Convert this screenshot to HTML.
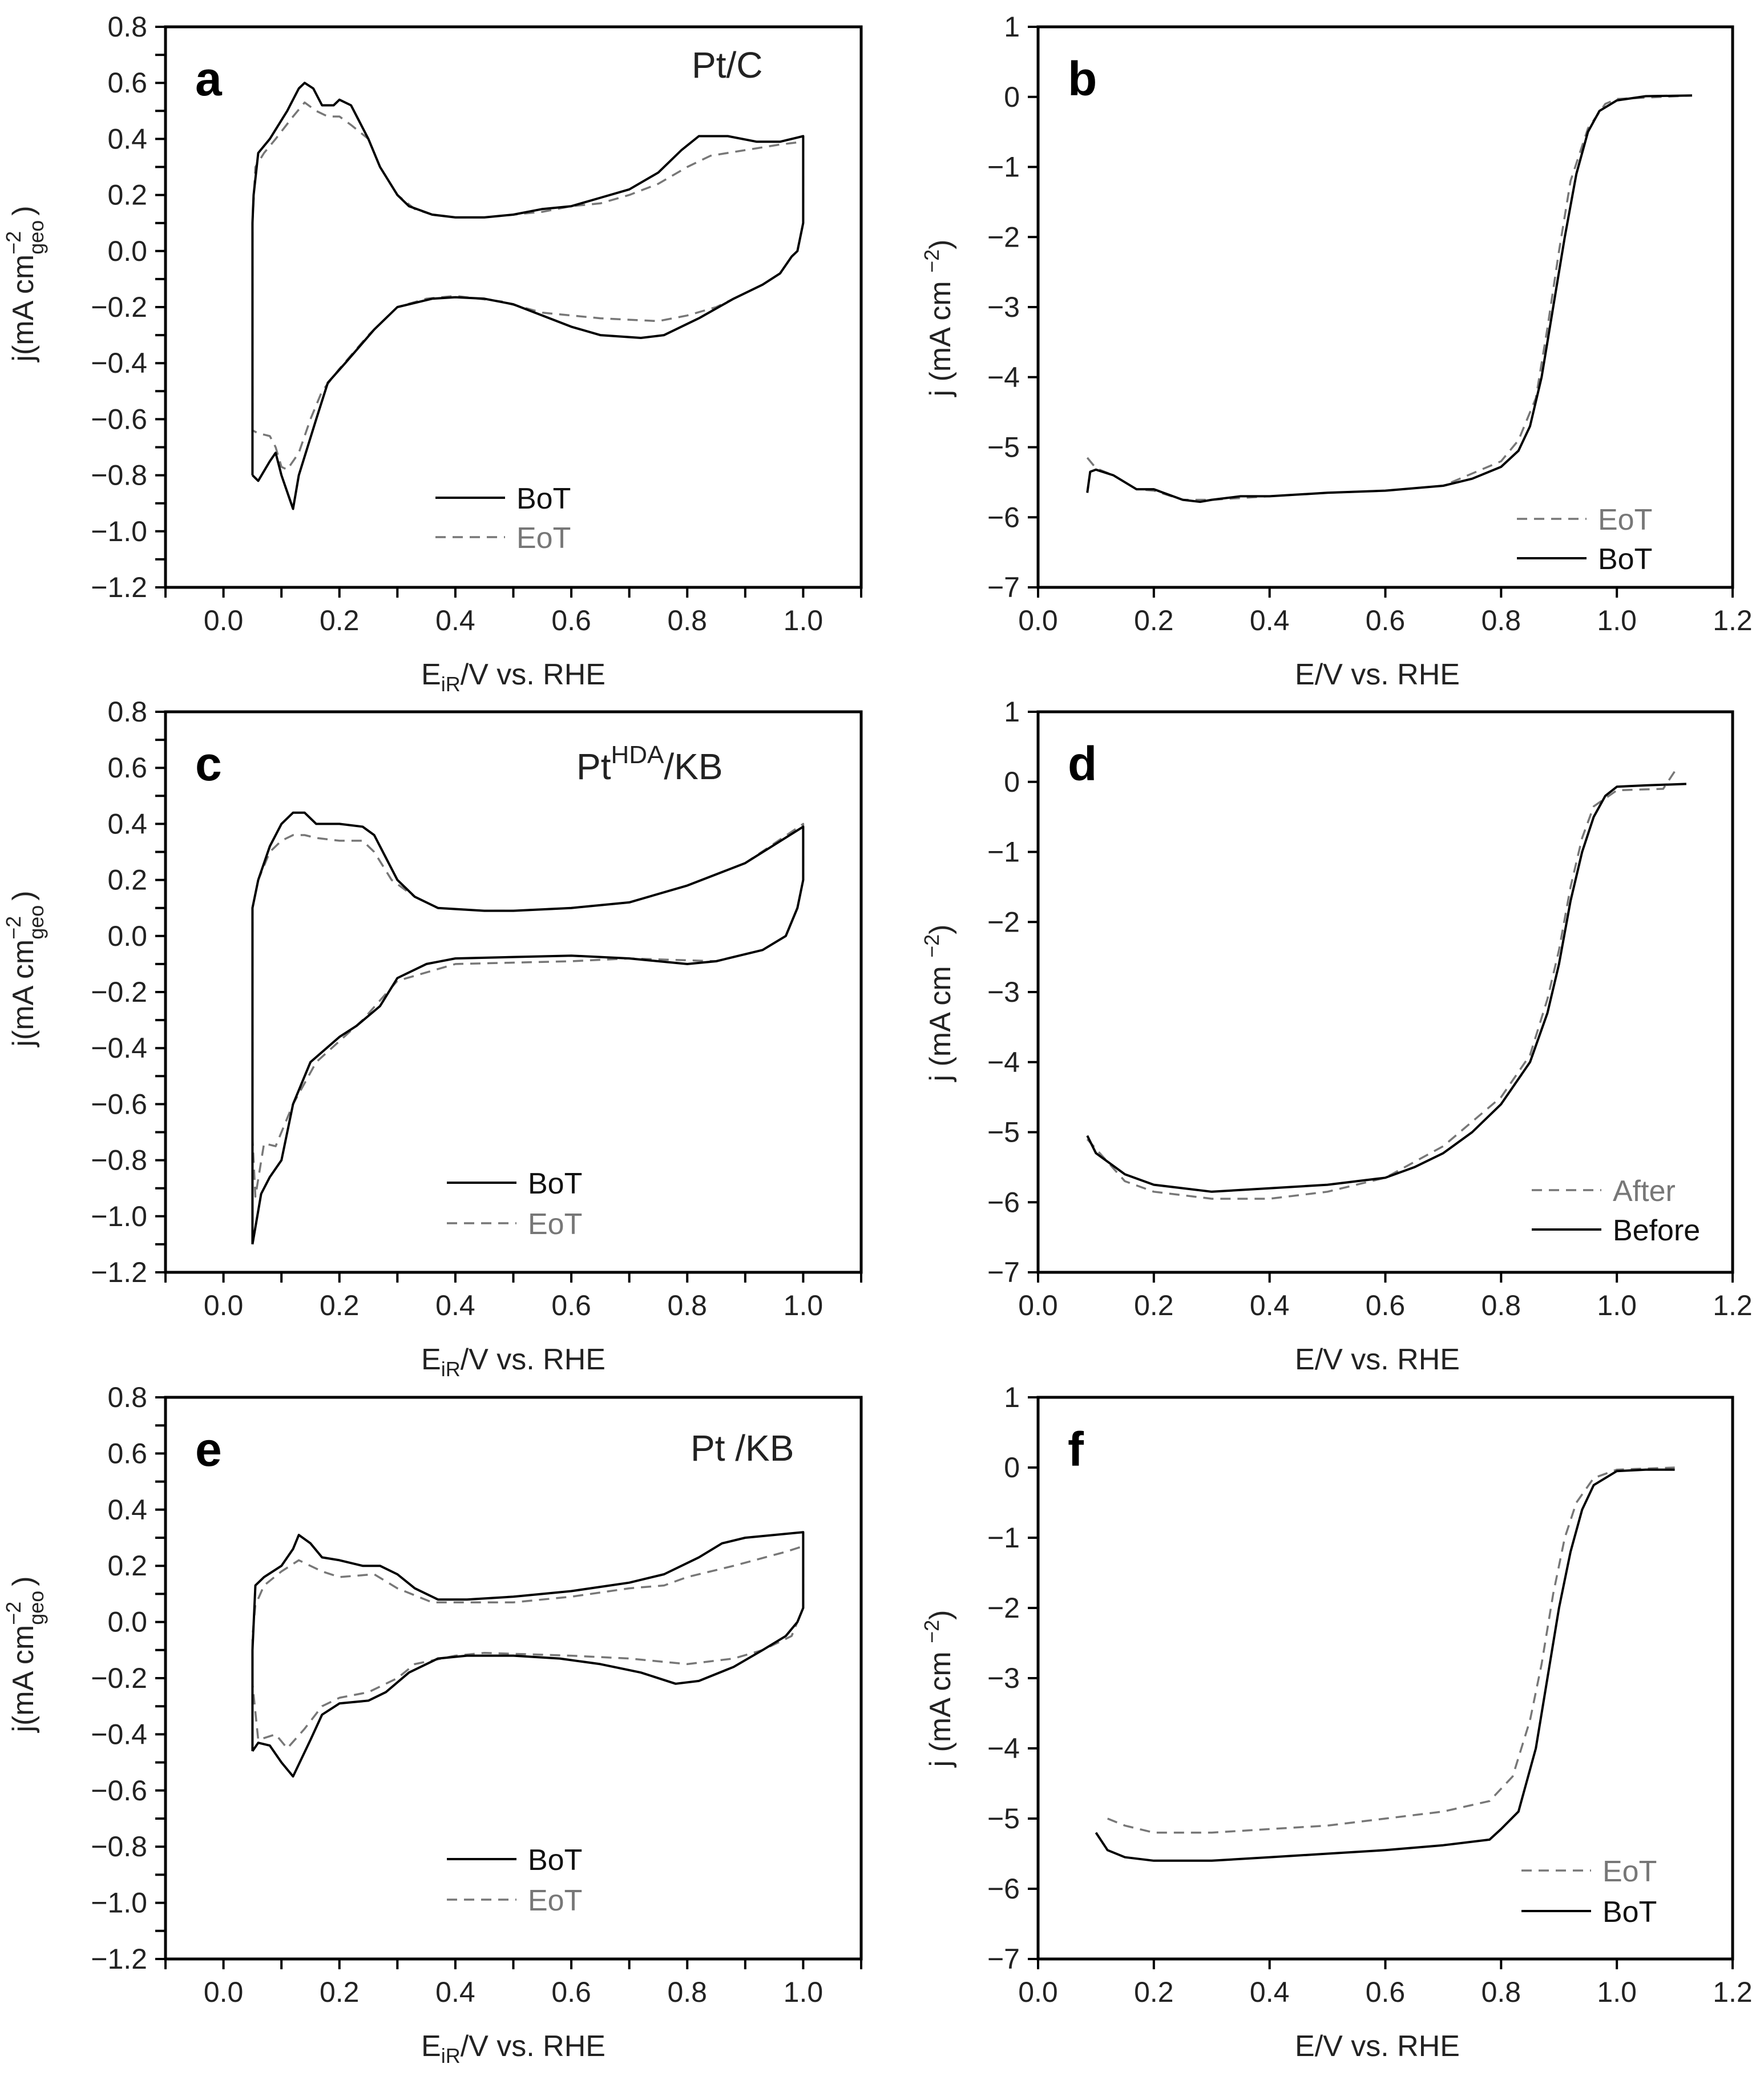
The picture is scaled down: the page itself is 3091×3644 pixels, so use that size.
<!DOCTYPE html>
<html><head><meta charset="utf-8"><style>
html,body{margin:0;padding:0;background:#fff}
svg{display:block}
text{font-family:"Liberation Sans",Arial,sans-serif;fill:#222}
</style></head><body>
<svg id="fig" width="3091" height="3644" viewBox="0 0 3091 3644" xmlns="http://www.w3.org/2000/svg"></svg>
<script>
// ---- data (E / V, j) ----
const aBoTx=[0.05,0.05,0.052,0.06,0.08,0.11,0.13,0.14,0.155,0.17,0.19,0.2,0.22,0.23,0.25,0.27,0.3,0.32,0.36,0.4,0.45,0.5,0.55,0.6,0.65,0.7,0.75,0.79,0.82,0.87,0.92,0.96,1.0,1.0,0.99,0.98,0.96,0.93,0.88,0.82,0.76,0.72,0.65,0.6,0.55,0.5,0.45,0.4,0.36,0.3,0.26,0.21,0.18,0.16,0.13,0.12,0.1,0.09,0.08,0.06,0.05];
const aBoTy=[-0.8,0.1,0.2,0.35,0.4,0.5,0.58,0.6,0.58,0.52,0.52,0.54,0.52,0.48,0.4,0.3,0.2,0.16,0.13,0.12,0.12,0.13,0.15,0.16,0.19,0.22,0.28,0.36,0.41,0.41,0.39,0.39,0.41,0.1,0.0,-0.02,-0.08,-0.12,-0.17,-0.24,-0.3,-0.31,-0.3,-0.27,-0.23,-0.19,-0.17,-0.165,-0.17,-0.2,-0.28,-0.4,-0.47,-0.6,-0.8,-0.92,-0.8,-0.72,-0.75,-0.82,-0.8];
const aEoTx=[0.05,0.05,0.055,0.07,0.09,0.12,0.14,0.16,0.18,0.2,0.22,0.25,0.27,0.3,0.33,0.36,0.4,0.45,0.5,0.55,0.6,0.65,0.7,0.75,0.8,0.84,0.9,0.96,1.0,1.0,0.99,0.98,0.96,0.93,0.88,0.85,0.8,0.75,0.65,0.55,0.48,0.4,0.35,0.3,0.25,0.2,0.17,0.15,0.13,0.11,0.1,0.09,0.08,0.06,0.05];
const aEoTy=[-0.64,0.1,0.3,0.35,0.4,0.48,0.53,0.5,0.48,0.48,0.45,0.4,0.3,0.2,0.15,0.13,0.12,0.12,0.13,0.14,0.16,0.17,0.2,0.24,0.3,0.34,0.36,0.38,0.39,0.1,0.0,-0.02,-0.08,-0.12,-0.17,-0.2,-0.23,-0.25,-0.24,-0.22,-0.18,-0.16,-0.17,-0.2,-0.3,-0.42,-0.5,-0.6,-0.72,-0.78,-0.77,-0.7,-0.66,-0.65,-0.64];
const cBoTx=[0.05,0.05,0.06,0.08,0.1,0.12,0.14,0.16,0.2,0.24,0.26,0.28,0.3,0.33,0.37,0.45,0.5,0.6,0.7,0.8,0.9,1.0,1.0,0.99,0.97,0.93,0.85,0.8,0.7,0.6,0.5,0.4,0.35,0.3,0.27,0.23,0.2,0.15,0.12,0.1,0.08,0.065,0.05];
const cBoTy=[-1.1,0.1,0.2,0.32,0.4,0.44,0.44,0.4,0.4,0.39,0.36,0.28,0.2,0.14,0.1,0.09,0.09,0.1,0.12,0.18,0.26,0.39,0.2,0.1,0.0,-0.05,-0.09,-0.1,-0.08,-0.07,-0.075,-0.08,-0.1,-0.15,-0.25,-0.32,-0.36,-0.45,-0.6,-0.8,-0.86,-0.92,-1.1];
const cEoTx=[0.05,0.05,0.06,0.08,0.1,0.12,0.14,0.16,0.2,0.24,0.26,0.29,0.33,0.37,0.45,0.5,0.6,0.7,0.8,0.9,1.0,1.0,0.99,0.97,0.93,0.85,0.7,0.6,0.4,0.3,0.24,0.16,0.12,0.09,0.07,0.055,0.05];
const cEoTy=[-0.72,0.1,0.2,0.3,0.34,0.36,0.36,0.35,0.34,0.34,0.3,0.2,0.14,0.1,0.09,0.09,0.1,0.12,0.18,0.26,0.4,0.2,0.1,0.0,-0.05,-0.09,-0.08,-0.09,-0.1,-0.16,-0.3,-0.45,-0.6,-0.75,-0.74,-0.93,-0.72];
const eBoTx=[0.05,0.05,0.055,0.07,0.1,0.12,0.13,0.15,0.17,0.2,0.24,0.27,0.3,0.33,0.37,0.42,0.5,0.6,0.7,0.76,0.82,0.86,0.9,0.95,1.0,1.0,0.99,0.97,0.93,0.88,0.82,0.78,0.72,0.65,0.58,0.5,0.42,0.37,0.32,0.28,0.25,0.2,0.17,0.15,0.12,0.1,0.08,0.06,0.05];
const eBoTy=[-0.46,-0.1,0.13,0.16,0.2,0.26,0.31,0.28,0.23,0.22,0.2,0.2,0.17,0.12,0.08,0.08,0.09,0.11,0.14,0.17,0.23,0.28,0.3,0.31,0.32,0.05,0.0,-0.05,-0.1,-0.16,-0.21,-0.22,-0.18,-0.15,-0.13,-0.12,-0.12,-0.13,-0.18,-0.25,-0.28,-0.29,-0.33,-0.42,-0.55,-0.5,-0.44,-0.43,-0.46];
const eEoTx=[0.05,0.05,0.055,0.07,0.1,0.13,0.17,0.2,0.26,0.3,0.36,0.5,0.6,0.7,0.76,0.8,0.88,0.97,1.0,1.0,0.98,0.93,0.88,0.8,0.7,0.6,0.45,0.4,0.33,0.3,0.25,0.2,0.17,0.14,0.11,0.09,0.06,0.05];
const eEoTy=[-0.22,-0.05,0.06,0.13,0.18,0.22,0.18,0.16,0.17,0.12,0.07,0.07,0.09,0.12,0.13,0.16,0.2,0.25,0.27,0.05,-0.05,-0.1,-0.13,-0.15,-0.13,-0.12,-0.11,-0.12,-0.15,-0.2,-0.25,-0.27,-0.3,-0.38,-0.45,-0.4,-0.42,-0.22];
const bBoTx=[0.085,0.09,0.1,0.13,0.17,0.2,0.25,0.28,0.3,0.35,0.4,0.5,0.6,0.7,0.75,0.8,0.83,0.85,0.87,0.89,0.91,0.93,0.95,0.97,1.0,1.05,1.13];
const bBoTy=[-5.65,-5.35,-5.32,-5.4,-5.6,-5.6,-5.75,-5.78,-5.75,-5.7,-5.7,-5.65,-5.62,-5.55,-5.45,-5.28,-5.05,-4.7,-4.0,-3.0,-2.0,-1.1,-0.5,-0.2,-0.05,0.01,0.02];
const bEoTx=[0.085,0.1,0.13,0.17,0.2,0.25,0.3,0.4,0.5,0.6,0.7,0.8,0.83,0.86,0.88,0.9,0.92,0.95,0.98,1.0,1.13];
const bEoTy=[-5.15,-5.3,-5.4,-5.6,-5.62,-5.75,-5.75,-5.7,-5.65,-5.62,-5.55,-5.2,-4.9,-4.3,-3.3,-2.2,-1.2,-0.45,-0.1,-0.03,0.02];
const dBeforex=[0.085,0.1,0.15,0.2,0.3,0.4,0.5,0.6,0.65,0.7,0.75,0.8,0.85,0.88,0.9,0.92,0.94,0.96,0.98,1.0,1.05,1.12];
const dBeforey=[-5.05,-5.3,-5.6,-5.75,-5.85,-5.8,-5.75,-5.65,-5.5,-5.3,-5.0,-4.6,-4.0,-3.3,-2.6,-1.7,-1.0,-0.5,-0.2,-0.07,-0.05,-0.03];
const dAfterx=[0.085,0.15,0.2,0.3,0.4,0.5,0.6,0.7,0.8,0.85,0.88,0.9,0.92,0.94,0.96,1.0,1.08,1.1];
const dAftery=[-5.1,-5.7,-5.85,-5.95,-5.95,-5.85,-5.65,-5.2,-4.5,-3.9,-3.1,-2.4,-1.5,-0.8,-0.35,-0.12,-0.1,0.15];
const fBoTx=[0.1,0.12,0.15,0.2,0.3,0.4,0.5,0.6,0.7,0.78,0.8,0.83,0.86,0.88,0.9,0.92,0.94,0.96,1.0,1.05,1.1];
const fBoTy=[-5.2,-5.45,-5.55,-5.6,-5.6,-5.55,-5.5,-5.45,-5.38,-5.3,-5.15,-4.9,-4.0,-3.0,-2.0,-1.2,-0.6,-0.25,-0.05,-0.03,-0.03];
const fEoTx=[0.12,0.15,0.2,0.3,0.4,0.5,0.6,0.7,0.78,0.82,0.85,0.87,0.89,0.91,0.93,0.96,1.0,1.1];
const fEoTy=[-5.0,-5.1,-5.2,-5.2,-5.15,-5.1,-5.0,-4.9,-4.75,-4.4,-3.6,-2.8,-1.8,-1.0,-0.5,-0.15,-0.03,0.0];
const cvXTicks=["0.0","0.2","0.4","0.6","0.8","1.0"];
const cvYTicks=["0.8","0.6","0.4","0.2","0.0","−0.2","−0.4","−0.6","−0.8","−1.0","−1.2"];
const lsvXTicks=["0.0","0.2","0.4","0.6","0.8","1.0","1.2"];
const lsvYTicks=["1","0","−1","−2","−3","−4","−5","−6","−7"];

const NS="http://www.w3.org/2000/svg";
const svg=document.getElementById('fig');
function mk(tag,attrs,parent){const e=document.createElementNS(NS,tag);for(const k in attrs)e.setAttribute(k,attrs[k]);(parent||svg).appendChild(e);return e;}
function num(s){return parseFloat(s.replace('−','-'));}

function panel(o){
  const g=mk('g',{});
  
  
  const L=o.L,R=o.R,T=o.T,B=o.B;
  const sx=v=>L+(v-o.x0)/(o.x1-o.x0)*(R-L);
  const sy=v=>T+(o.y1-v)/(o.y1-o.y0)*(B-T);
  const fr=mk('rect',{x:L,y:T,width:R-L,height:B-T,fill:'none',stroke:'#000','stroke-width':5},g);
  
  
  for(let v=o.x0;v<=o.x1+1e-9;v+=o.xminor){
    const t=mk('line',{x1:sx(v),x2:sx(v),y1:B,y2:B+18,stroke:'#000','stroke-width':4},g);
    
    
  }
  o.xt.forEach(s=>{
    const t=mk('text',{x:sx(num(s)),y:B+75,'font-size':50,'text-anchor':'middle'},g);t.textContent=s;
    
    
  });
  for(let v=o.y0;v<=o.y1+1e-9;v+=o.yminor){
    const t=mk('line',{x1:L-18,x2:L,y1:sy(v),y2:sy(v),stroke:'#000','stroke-width':4},g);
    
    
  }
  o.yt.forEach(s=>{
    const t=mk('text',{x:L-32,y:sy(num(s))+17,'font-size':50,'text-anchor':'end'},g);t.textContent=s;
    
    
  });
  o.series.forEach(s=>{
    const d=s.x.map((x,i)=>(i?'L':'M')+sx(x).toFixed(1)+' '+sy(s.y[i]).toFixed(1)).join(' ');
    const p=mk('path',{d:d,fill:'none',stroke:s.dash?'#777':'#000','stroke-width':s.dash?3.5:4,'stroke-dasharray':s.dash?'18 12':'none','stroke-linejoin':'round'},g);
    
    
  });
  o.legend.forEach(l=>{
    const ln=mk('line',{x1:l.x,x2:l.x+122,y1:l.y,y2:l.y,stroke:l.dash?'#777':'#000','stroke-width':l.dash?3.5:4,'stroke-dasharray':l.dash?'18 12':'none'},g);
    
    
    const t=mk('text',{x:l.x+142,y:l.y+19,'font-size':52},g);t.textContent=l.t;
    t.style.fill=l.dash?'#777':'#111';
    
    
  });
  const pl=mk('text',{x:L+52,y:T+120,'font-size':84,'font-weight':'bold'},g);pl.textContent=o.id;
  pl.style.fill='#000';
  
  
  return {g,sx,sy};
}

function cvLabels(p,o){
  const xl=mk('text',{x:(o.L+o.R)/2,y:o.B+170,'font-size':52,'text-anchor':'middle'},p.g);
  xl.innerHTML='E<tspan font-size="36" dy="12">iR</tspan><tspan dy="-12">/V vs. RHE</tspan>';
  
  
  const yl=mk('text',{transform:`translate(58 ${o.T+450}) rotate(-90)`,'font-size':52,'text-anchor':'middle'},p.g);
  yl.innerHTML='j(mA cm<tspan font-size="36" dy="-22">−2</tspan><tspan font-size="36" dx="-41" dy="40">geo</tspan><tspan dx="8" dy="-18">)</tspan>';
  
  
}
function lsvLabels(p,o){
  const xl=mk('text',{x:(o.L+o.R)/2-14,y:o.B+170,'font-size':52,'text-anchor':'middle'},p.g);
  xl.textContent='E/V vs. RHE';
  
  
  const yl=mk('text',{transform:`translate(1665 ${o.T+510}) rotate(-90)`,'font-size':52,'text-anchor':'middle'},p.g);
  yl.innerHTML='j (mA cm <tspan font-size="36" dy="-20">−2</tspan><tspan dy="20">)</tspan>';
  
  
}

const rows=[{T:47,B:1029},{T:1247,B:2229},{T:2448,B:3432}];
const cvCfg=(id,r,series,leg)=>({id,L:290,R:1509,T:rows[r].T,B:rows[r].B,x0:-0.1,x1:1.1,y0:-1.2,y1:0.8,xminor:0.1,yminor:0.1,xt:cvXTicks,yt:cvYTicks,series,legend:leg});
const lsvCfg=(id,r,series,leg)=>({id,L:1819,R:3036,T:rows[r].T,B:rows[r].B,x0:0,x1:1.2,y0:-7,y1:1,xminor:0.2,yminor:1,xt:lsvXTicks,yt:lsvYTicks,series,legend:leg});

const panels=[
 [cvCfg('a',0,[{name:'EoT',x:aEoTx,y:aEoTy,dash:1},{name:'BoT',x:aBoTx,y:aBoTy}],[{x:763,y:872,t:'BoT'},{x:763,y:941,t:'EoT',dash:1}]),'cv','Pt/C',1212,136],
 [lsvCfg('b',0,[{name:'EoT',x:bEoTx,y:bEoTy,dash:1},{name:'BoT',x:bBoTx,y:bBoTy}],[{x:2658,y:909,t:'EoT',dash:1},{x:2658,y:978,t:'BoT'}]),'lsv'],
 [cvCfg('c',1,[{name:'EoT',x:cEoTx,y:cEoTy,dash:1},{name:'BoT',x:cBoTx,y:cBoTy}],[{x:783,y:2072,t:'BoT'},{x:783,y:2143,t:'EoT',dash:1}]),'cv','PtHDA',1010,1365],
 [lsvCfg('d',1,[{name:'After',x:dAfterx,y:dAftery,dash:1},{name:'Before',x:dBeforex,y:dBeforey}],[{x:2684,y:2085,t:'After',dash:1},{x:2684,y:2154,t:'Before'}]),'lsv'],
 [cvCfg('e',2,[{name:'EoT',x:eEoTx,y:eEoTy,dash:1},{name:'BoT',x:eBoTx,y:eBoTy}],[{x:783,y:3257,t:'BoT'},{x:783,y:3328,t:'EoT',dash:1}]),'cv','Pt /KB',1210,2559],
 [lsvCfg('f',2,[{name:'EoT',x:fEoTx,y:fEoTy,dash:1},{name:'BoT',x:fBoTx,y:fBoTy}],[{x:2666,y:3277,t:'EoT',dash:1},{x:2666,y:3348,t:'BoT'}]),'lsv']
];
panels.forEach(([o,kind,title,tx,ty])=>{
  const p=panel(o);
  if(kind==='cv'){cvLabels(p,o);}else{lsvLabels(p,o);}
  if(title){
    const t=mk('text',{x:tx,y:ty,'font-size':64},p.g);
    if(title==='PtHDA'){t.innerHTML='Pt<tspan font-size="44" dy="-28">HDA</tspan><tspan dy="28">/KB</tspan>';}
    else t.textContent=title;
    
    
  }
});
</script>
</body></html>
